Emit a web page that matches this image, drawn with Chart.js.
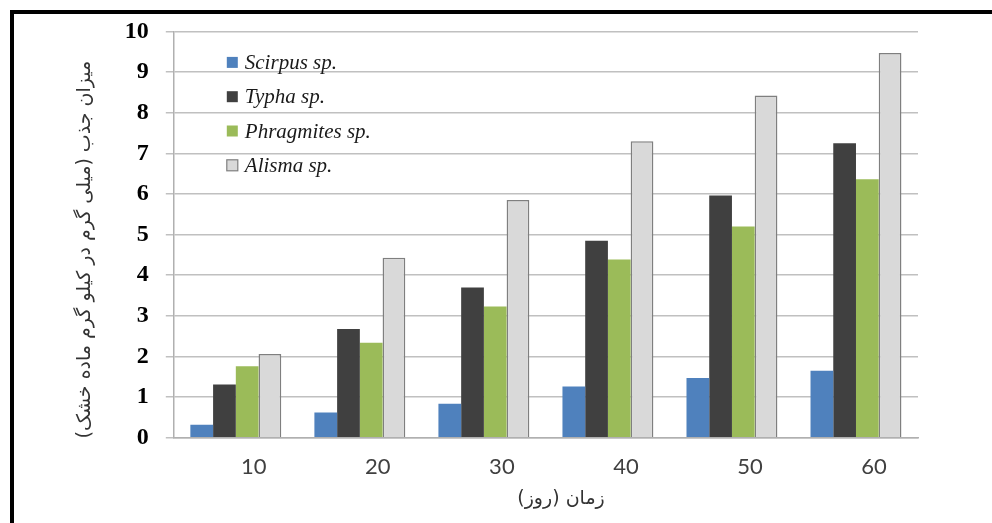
<!DOCTYPE html>
<html>
<head>
<meta charset="utf-8">
<script src="https://cdn.jsdelivr.net/npm/chart.js@4/dist/chart.umd.min.js"></script>
<style>
  html, body { margin: 0; padding: 0; background: #fff; }
  #wrap { position: relative; width: 992px; height: 523px; }
  #frame {
    position: absolute; left: 10px; top: 10px; right: 0; bottom: 0;
    border-top: 4px solid #000; border-left: 4px solid #000;
    pointer-events: none;
  }
</style>
</head>
<body>
<div id="wrap">
  <canvas id="chart" width="992" height="523"></canvas>
  <div id="frame"></div>
</div>
<script>
// days
const categories = ["10", "20", "30", "40", "50", "60"];

const scirpus = [0.32, 0.62, 0.84, 1.26, 1.47, 1.65];
const typha = [1.31, 2.68, 3.70, 4.85, 5.96, 7.25];
const phragmites = [1.76, 2.34, 3.23, 4.39, 5.20, 6.36];
const alisma = [2.06, 4.43, 5.85, 7.30, 8.42, 9.47];

const seriesNames = ["Scirpus sp.", "Typha sp.", "Phragmites sp.", "Alisma sp."];
const yTicks = [0, 1, 2, 3, 4, 5, 6, 7, 8, 9, 10];

// nbsp padding only nudges the titles where the original has them
// (canvas is ltr: trailing nbsp -> right side, leading nbsp -> left side)
const yTitle = "میزان جذب (میلی گرم در کیلو گرم ماده خشک)\u00A0\u00A0\u00A0\u00A0\u00A0";
const xTitle = "\u00A0\u00A0\u00A0\u00A0\u00A0زمان (روز)";

// legend drawn inside the plot area, top left, like the original
const insideLegend = {
    id: "insideLegend",
    afterDatasetsDraw(chart) {
        const { ctx, chartArea } = chart;
        const x0 = chartArea.left + 53;
        let y = chartArea.top + 31;
        ctx.save();
        ctx.font = "italic 21px 'Liberation Serif'";
        ctx.textBaseline = "middle";
        chart.data.datasets.forEach((ds) => {
            ctx.fillStyle = ds.backgroundColor;
            ctx.fillRect(x0, y - 5.5, 11, 11);
            if (ds.borderWidth) {
                ctx.strokeStyle = ds.borderColor;
                ctx.lineWidth = 1.2;
                ctx.strokeRect(x0, y - 5.5, 11, 11);
            }
            ctx.fillStyle = "#1a1a1a";
            ctx.fillText(ds.label, x0 + 18, y + 1);
            y += 34.3;
        });
        ctx.restore();
    },
};

const ctx = document.getElementById("chart");
new Chart(ctx, {
    type: "bar",
    data: {
        labels: categories,
        datasets: [
            { label: seriesNames[0], data: scirpus, backgroundColor: "#4F81BD", borderWidth: 0 },
            { label: seriesNames[1], data: typha, backgroundColor: "#404040", borderWidth: 0 },
            { label: seriesNames[2], data: phragmites, backgroundColor: "#9BBB59", borderWidth: 0 },
            { label: seriesNames[3], data: alisma, backgroundColor: "#D9D9D9", borderColor: "#7F7F7F", borderWidth: 1.5 },
        ],
    },
    options: {
        responsive: false,
        animation: false,
        devicePixelRatio: 1,
        categoryPercentage: 0.733,
        barPercentage: 1.0,
        layout: { padding: { left: 60, right: 74, top: 17, bottom: 5 } },
        plugins: {
            legend: { display: false },
            tooltip: { enabled: false },
        },
        scales: {
            x: {
                grid: { display: false, drawTicks: false },
                border: { display: true, color: "#b0b0b0", width: 1.5 },
                ticks: {
                    padding: 16,
                    labelOffset: 18,
                    color: "#404040",
                    font: { family: "Lato", size: 22 },
                },
                title: {
                    display: true,
                    text: xTitle,
                    color: "#333",
                    font: { family: "DejaVu Sans", size: 19 },
                    padding: { top: -9, bottom: 8 },
                },
            },
            y: {
                min: 0,
                max: 10,
                afterBuildTicks: (axis) => {
                    axis.ticks = yTicks.map((v) => ({ value: v }));
                },
                grid: { color: "#c0c0c0", lineWidth: 1.5, tickLength: 8 },
                border: { display: true, color: "#b0b0b0", width: 1.5 },
                ticks: {
                    padding: 17,
                    color: "#000",
                    font: { family: "Liberation Serif", size: 24, weight: "bold" },
                },
                title: {
                    display: true,
                    text: yTitle,
                    color: "#333",
                    font: { family: "DejaVu Sans", size: 19 },
                    padding: { top: 14, bottom: 11 },
                },
            },
        },
    },
    plugins: [insideLegend],
});
</script>
</body>
</html>
